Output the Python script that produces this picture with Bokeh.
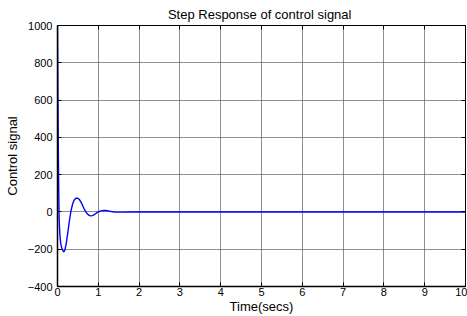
from bokeh.plotting import figure
from bokeh.models import LinearAxis, Range1d, FixedTicker, Title
from bokeh.embed import file_html
from bokeh.resources import INLINE

# data
t = [0, 0.01, 0.02, 0.03, 0.04, 0.06, 0.08, 0.10, 0.12, 0.15, 0.18, 0.21, 0.25,
     0.29, 0.33, 0.37, 0.41, 0.45, 0.49, 0.53, 0.57, 0.61, 0.65, 0.69, 0.73,
     0.77, 0.81, 0.85, 0.89, 0.93, 0.97, 1.01, 1.05, 1.09, 1.13, 1.17, 1.21,
     1.25, 1.30, 1.35, 1.40, 1.50, 1.60, 1.80, 2.0, 3, 4, 5, 6, 7, 8, 9, 10]
u = [1000, 640, 330, 110, -40, -130, -170, -190, -203, -215, -205, -175, -115,
     -50, 5, 42, 64, 73, 74, 68, 55, 37, 18, 2, -10, -18, -21, -20, -16, -10,
     -4, 1, 4, 7, 8, 8, 7, 5, 3, 1, 0, -1, -1, 0, 0, 0, 0, 0, 0, 0, 0, 0, 0]

xticks = list(range(0, 11))
yticks = list(range(-400, 1001, 200))

FONT = "Liberation Sans"
TFS = "11px"
LFS = "13px"

p = figure(width=467, height=316, output_backend="svg", toolbar_location=None,
           x_range=Range1d(0, 10), y_range=Range1d(-400, 1000),
           min_border_left=57, min_border_right=2, min_border_top=0, min_border_bottom=0,
           background_fill_color="white", border_fill_color="white")

p.title = Title(text="Step Response of  control signal", align="center",
                text_font=FONT, text_font_size=LFS, text_font_style="normal",
                text_color="black", standoff=8, offset=0)

p.line(t, u, line_color="#0000ff", line_width=1.4)

p.outline_line_color = "black"
p.outline_line_width = 1

for ax in (p.xaxis[0], p.yaxis[0]):
    ax.axis_line_color = "black"
    ax.axis_line_width = 1.5
    ax.major_tick_in = 4
    ax.major_tick_out = 0
    ax.minor_tick_line_color = None
    ax.major_tick_line_color = "black"
    ax.major_label_text_font = FONT
    ax.major_label_text_font_size = TFS
    ax.major_label_text_color = "black"
    ax.axis_label_text_font = FONT
    ax.axis_label_text_font_size = LFS
    ax.axis_label_text_font_style = "normal"
    ax.axis_label_text_color = "black"

p.xaxis[0].ticker = FixedTicker(ticks=xticks)
p.yaxis[0].ticker = FixedTicker(ticks=yticks)
p.xaxis[0].axis_label = "Time(secs)"
p.yaxis[0].axis_label = "Control signal"
p.xaxis[0].major_label_standoff = 1
p.xaxis[0].axis_label_standoff = 0
p.yaxis[0].major_label_standoff = 5
p.yaxis[0].axis_label_standoff = 5

top = LinearAxis(ticker=FixedTicker(ticks=xticks),
                 major_label_overrides={k: "" for k in xticks},
                 major_tick_in=4, major_tick_out=0, minor_tick_line_color=None,
                 axis_line_color="black", major_label_standoff=0)
right = LinearAxis(ticker=FixedTicker(ticks=yticks),
                   major_label_overrides={k: "" for k in yticks},
                   major_tick_in=4, major_tick_out=0, minor_tick_line_color=None,
                   axis_line_color="black", major_label_standoff=0)
p.add_layout(top, "above")
p.add_layout(right, "right")

p.xgrid.ticker = FixedTicker(ticks=xticks)
p.ygrid.ticker = FixedTicker(ticks=yticks)
p.grid.grid_line_color = "#606060"
p.grid.grid_line_alpha = 0.7
p.grid.grid_line_width = 1

open("out.html", "w").write(file_html(p, INLINE))
